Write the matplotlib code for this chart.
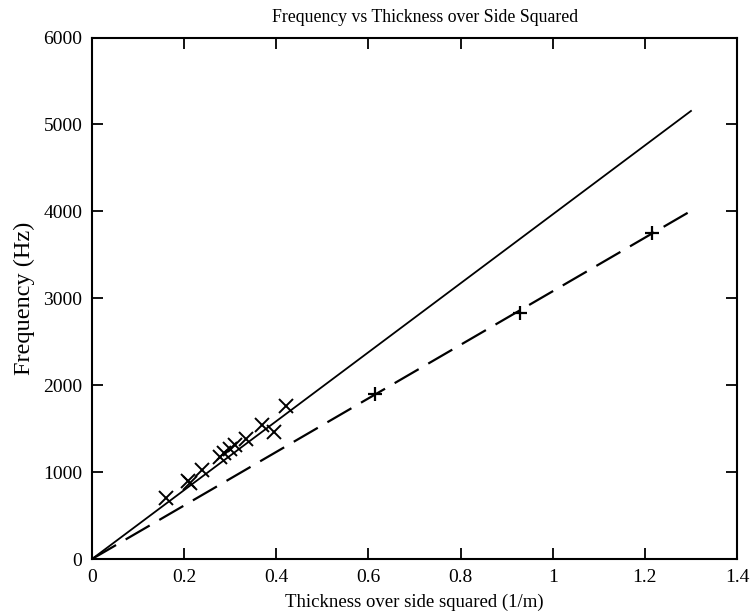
import matplotlib
matplotlib.use("Agg")
import matplotlib.pyplot as plt
import numpy as np

plt.rcParams['font.family'] = ['Liberation Serif', 'DejaVu Serif']

# data
x_cross = [0.161, 0.208, 0.213, 0.238, 0.278, 0.287, 0.299, 0.310, 0.335, 0.369, 0.394, 0.420]
y_cross = [698, 895, 871, 1020, 1177, 1215, 1270, 1312, 1377, 1542, 1465, 1755]
x_plus = [0.614, 0.929, 1.215]
y_plus = [1895, 2827, 3755]
fit_solid_x = [0.0, 1.3]
fit_solid_y = [0, 5155]
fit_dashed_x = [0.0, 1.3]
fit_dashed_y = [0, 4005]
xticks = [0, 0.2, 0.4, 0.6, 0.8, 1.0, 1.2, 1.4]
xticklabels = ['0', '0.2', '0.4', '0.6', '0.8', '1', '1.2', '1.4']
yticks = [0, 1000, 2000, 3000, 4000, 5000, 6000]

fig = plt.figure(figsize=(7.55, 6.11), dpi=100)
ax = fig.add_axes([0.1219, 0.0851, 0.8543, 0.8535])

ax.plot(fit_solid_x, fit_solid_y, color='black', lw=1.3, ls='-')
ax.plot(fit_dashed_x, fit_dashed_y, color='black', lw=1.6, ls=(0, (12.5, 5)))
ax.plot(x_cross, y_cross, ls='none', marker='x', color='black', ms=10, mew=1.4)
ax.plot(x_plus, y_plus, ls='none', marker='+', color='black', ms=10, mew=1.6)

ax.set_xlim(0, 1.4)
ax.set_ylim(0, 6000)
ax.set_xticks(xticks)
ax.set_xticklabels(xticklabels)
ax.set_yticks(yticks)
ax.tick_params(direction='in', length=8, width=1.3, top=True, right=True,
               labelsize=14, pad=7)
for s in ax.spines.values():
    s.set_linewidth(1.5)

ax.set_title('Frequency vs Thickness over Side Squared', fontsize=12.8, pad=11, x=0.517)
ax.set_xlabel('Thickness over side squared (1/m)', fontsize=13.5, labelpad=6)
ax.set_ylabel('Frequency (Hz)', fontsize=17.5, labelpad=6)

fig.savefig('out.png', dpi=100)
